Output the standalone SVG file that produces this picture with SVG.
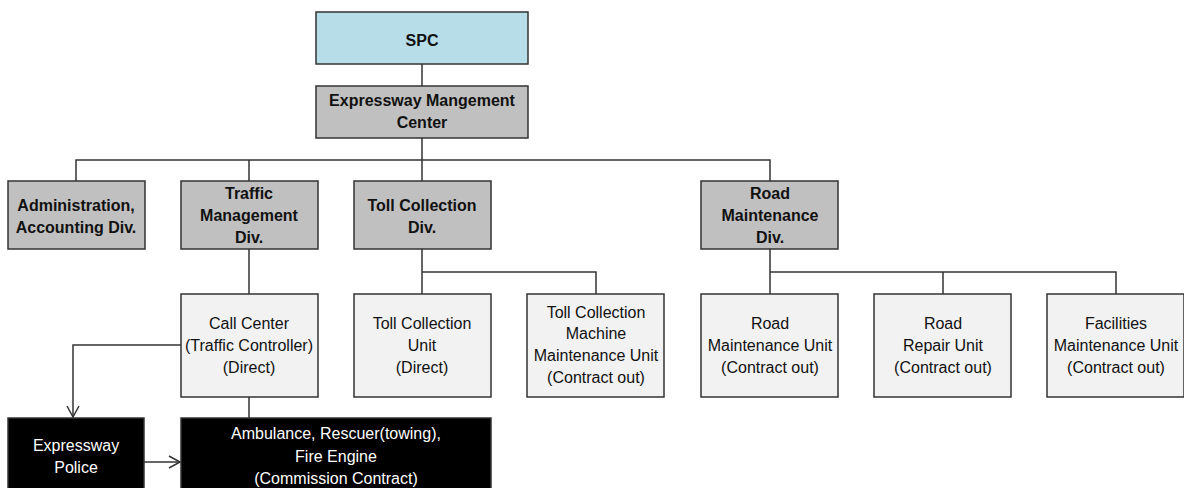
<svg xmlns="http://www.w3.org/2000/svg" width="1184" height="488" viewBox="0 0 1184 488">
<style>
.box{stroke:#333;stroke-width:1.5}
.spc{fill:#b7dde8}
.div{fill:#c0c0c0}
.unit{fill:#f2f2f2}
.blk{fill:#000}
text{font-family:"Liberation Sans",Arial,sans-serif;text-anchor:middle}
.b{font-size:16px;font-weight:bold;fill:#111}
.n{font-size:16px;fill:#111}
.w{font-size:16px;fill:#fff}
.c{fill:none;stroke:#333;stroke-width:1.5}
</style>
<defs>
<marker id="arr" markerWidth="14" markerHeight="14" refX="12" refY="7" orient="auto" markerUnits="userSpaceOnUse">
<path d="M1,1 L12,7 L1,13" fill="none" stroke="#333" stroke-width="1.5"/>
</marker>
</defs>
<rect width="1184" height="488" fill="#fff"/>
<g id="connectors">
<path class="c" d="M422,64 V86"/>
<path class="c" d="M422,138 V160 M76,181 V160 H770 V181 M249,160 V181 M422,160 V181"/>
<path class="c" d="M249,249 V294"/>
<path class="c" d="M422,249 V294 M422,272 H596 V294"/>
<path class="c" d="M770,249 V294 M770,272 H1116 V294 M943,272 V294"/>
<path class="c" d="M249,397 V418"/>
<path class="c" d="M181,345 H73 V417" marker-end="url(#arr)"/>
<path class="c" d="M144,462 H180" marker-end="url(#arr)"/>
</g>
<g id="spc"><rect class="box spc" x="316" y="12" width="212" height="52"/><text class="b" x="422" y="46">SPC</text></g>
<g id="emc"><rect class="box div" x="316" y="86" width="212" height="52"/><text class="b" x="422" y="106">Expressway Mangement</text><text class="b" x="422" y="128">Center</text></g>
<g id="admin"><rect class="box div" x="8" y="181" width="137" height="68"/><text class="b" x="76" y="211">Administration,</text><text class="b" x="76" y="233">Accounting Div.</text></g>
<g id="traffic"><rect class="box div" x="181" y="181" width="137" height="68"/><text class="b" x="249" y="199">Traffic</text><text class="b" x="249" y="221">Management</text><text class="b" x="249" y="243">Div.</text></g>
<g id="tolldiv"><rect class="box div" x="354" y="181" width="137" height="68"/><text class="b" x="422" y="211">Toll Collection</text><text class="b" x="422" y="233">Div.</text></g>
<g id="roaddiv"><rect class="box div" x="701" y="181" width="137" height="68"/><text class="b" x="770" y="199">Road</text><text class="b" x="770" y="221">Maintenance</text><text class="b" x="770" y="243">Div.</text></g>
<g id="callcenter"><rect class="box unit" x="181" y="294" width="137" height="103"/><text class="n" x="249" y="329">Call Center</text><text class="n" x="249" y="351">(Traffic Controller)</text><text class="n" x="249" y="373">(Direct)</text></g>
<g id="tollunit"><rect class="box unit" x="354" y="294" width="137" height="103"/><text class="n" x="422" y="329">Toll Collection</text><text class="n" x="422" y="351">Unit</text><text class="n" x="422" y="373">(Direct)</text></g>
<g id="tollmachine"><rect class="box unit" x="527" y="294" width="137" height="103"/><text class="n" x="596" y="318">Toll Collection</text><text class="n" x="596" y="339">Machine</text><text class="n" x="596" y="361">Maintenance Unit</text><text class="n" x="596" y="383">(Contract out)</text></g>
<g id="roadmaint"><rect class="box unit" x="701" y="294" width="137" height="103"/><text class="n" x="770" y="329">Road</text><text class="n" x="770" y="351">Maintenance Unit</text><text class="n" x="770" y="373">(Contract out)</text></g>
<g id="roadrepair"><rect class="box unit" x="874" y="294" width="137" height="103"/><text class="n" x="943" y="329">Road</text><text class="n" x="943" y="351">Repair Unit</text><text class="n" x="943" y="373">(Contract out)</text></g>
<g id="facilities"><rect class="box unit" x="1047" y="294" width="137" height="103"/><text class="n" x="1116" y="329">Facilities</text><text class="n" x="1116" y="351">Maintenance Unit</text><text class="n" x="1116" y="373">(Contract out)</text></g>
<g id="police"><rect class="box blk" x="8" y="418" width="136" height="75"/><text class="w" x="76" y="451">Expressway</text><text class="w" x="76" y="473">Police</text></g>
<g id="ambulance"><rect class="box blk" x="181" y="418" width="310" height="75"/><text class="w" x="336" y="439">Ambulance, Rescuer(towing),</text><text class="w" x="336" y="462">Fire Engine</text><text class="w" x="336" y="484">(Commission Contract)</text></g>
</svg>
